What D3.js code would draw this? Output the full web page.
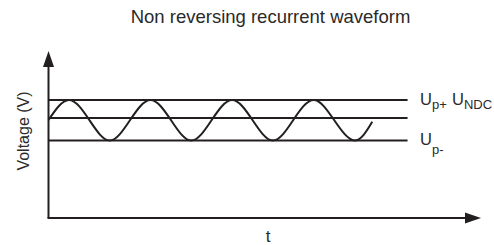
<!DOCTYPE html>
<html>
<head>
<meta charset="utf-8">
<script src="https://cdn.jsdelivr.net/npm/d3@7"></script>
<style>
  html, body { margin: 0; padding: 0; background: #fff; }
  svg { display: block; font-family: "Liberation Sans", Arial, Helvetica, sans-serif; }
</style>
</head>
<body>
<div id="chart"></div>
<script>
// chart values
var titleText = "Non reversing recurrent waveform";
var yLabel = "Voltage (V)";
var xLabel = "t";

// horizontal levels (voltage units)
var levelIds = ["Up+", "UNDC", "Up-"];
var levelValues = [11.8, 10.0, 7.75];

// waveform key points: crossings, peaks and troughs
var waveT = [0, 1, 2, 3, 4, 5, 6, 7, 8, 9, 10, 11, 12, 13, 14, 15, 15.87];
var waveV = [9.8, 11.8, 9.8, 7.75, 9.8, 11.8, 9.8, 7.75, 9.8, 11.8, 9.8, 7.75, 9.8, 11.8, 9.8, 7.75, 9.63];

var levelEnd = 17.6;   // where the level lines stop (t units)
var tMax = 21.2, vMax = 16.7;

var width = 494, height = 245;
var ink = "#231f20";

var svg = d3.select("#chart").append("svg")
    .attr("width", width)
    .attr("height", height);

var x = d3.scaleLinear().domain([0, tMax]).range([48.5, 48.5 + 20.4 * tMax]);
var y = d3.scaleLinear().domain([0, vMax]).range([218, 218 - 10 * vMax]);

// title
svg.append("text")
    .attr("x", 270.5)
    .attr("y", 23)
    .attr("text-anchor", "middle")
    .style("font-size", "18.5px")
    .style("fill", "#2a2a2a")
    .text(titleText);

// level lines
var g = svg.append("g");
g.selectAll("line.level")
    .data(levelValues)
    .enter().append("line")
    .attr("class", "level")
    .attr("x1", x(0))
    .attr("x2", x(levelEnd))
    .attr("y1", function (d) { return y(d); })
    .attr("y2", function (d) { return y(d); })
    .style("stroke", ink)
    .style("stroke-width", 1.8);

// waveform
var pts = waveT.map(function (t, i) { return [t, waveV[i]]; });
var line = d3.line()
    .x(function (d) { return x(d[0]); })
    .y(function (d) { return y(d[1]); })
    .curve(d3.curveNatural);
g.append("path")
    .attr("d", line(pts))
    .style("fill", "none")
    .style("stroke", ink)
    .style("stroke-width", 2);

// axes with arrow heads
var arrowLen = 16, arrowHalf = 5.5;
g.append("line")
    .attr("x1", x(0)).attr("y1", y(0))
    .attr("x2", x(0)).attr("y2", y(vMax) + arrowLen - 1)
    .style("stroke", ink).style("stroke-width", 2);
g.append("line")
    .attr("x1", x(0) - 1).attr("y1", y(0))
    .attr("x2", x(tMax) - arrowLen + 1).attr("y2", y(0))
    .style("stroke", ink).style("stroke-width", 2);

g.append("path")
    .attr("d", "M" + x(0) + "," + y(vMax) +
        "L" + (x(0) + arrowHalf) + "," + (y(vMax) + arrowLen) +
        "L" + (x(0) - arrowHalf) + "," + (y(vMax) + arrowLen) + "Z")
    .style("fill", ink);
g.append("path")
    .attr("d", "M" + x(tMax) + "," + y(0) +
        "L" + (x(tMax) - arrowLen) + "," + (y(0) - arrowHalf) +
        "L" + (x(tMax) - arrowLen) + "," + (y(0) + arrowHalf) + "Z")
    .style("fill", ink);

// axis titles
svg.append("text")
    .attr("transform", "translate(29,131) rotate(-90)")
    .attr("text-anchor", "middle")
    .style("font-size", "16px")
    .style("fill", "#2a2a2a")
    .text(yLabel);

svg.append("text")
    .attr("x", 268)
    .attr("y", 241.5)
    .attr("text-anchor", "middle")
    .style("font-size", "17px")
    .style("fill", "#2a2a2a")
    .text(xLabel);

// level labels: U with subscript
function label(xPos, yPos, sub, subDrop) {
    var t = svg.append("text")
        .attr("x", xPos)
        .attr("y", yPos)
        .style("font-size", "16.5px")
        .style("fill", "#2a2a2a");
    t.append("tspan").text("U");
    t.append("tspan")
        .attr("dy", subDrop)
        .style("font-size", "13px")
        .text(sub);
}
label(420, y(levelValues[0]) + 4.5, "p+", 4.5);
label(452, y(levelValues[0]) + 4.5, "NDC", 4.5);
label(420, y(levelValues[2]) + 4.5, "p-", 8.5);
</script>
</body>
</html>
